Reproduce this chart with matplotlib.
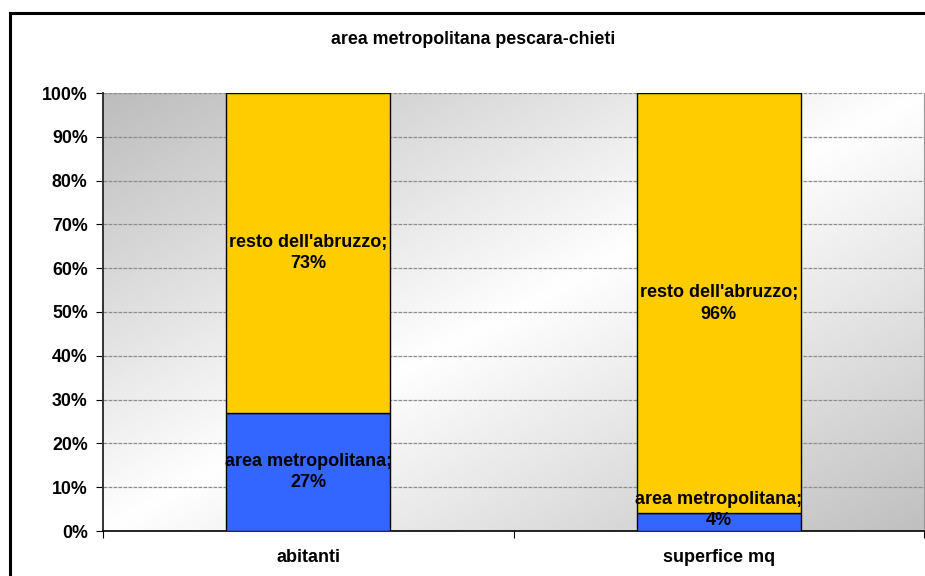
import numpy as np
import matplotlib.pyplot as plt
from matplotlib.colors import LinearSegmentedColormap

plt.rcParams['font.family'] = ['Liberation Sans', 'DejaVu Sans']
plt.rcParams['font.weight'] = 'bold'

categories = ['abitanti', 'superfice mq']
series_names = ['area metropolitana', "resto dell'abruzzo"]
area_metro = [27, 4]
resto = [73, 96]
yticks = [0, 10, 20, 30, 40, 50, 60, 70, 80, 90, 100]
title = 'area metropolitana pescara-chieti'

fig = plt.figure(figsize=(9.25, 5.76), dpi=100)
ax = fig.add_axes([103 / 925, 1 - 531 / 576, 821 / 925, 438 / 576])

# diagonal gradient background: grey corners top-left and bottom-right
nx, ny = 200, 120
gx, gy = np.meshgrid(np.linspace(0, 1, nx), np.linspace(0, 1, ny))
t = (gx + gy) / 2
cmap = LinearSegmentedColormap.from_list('bg', ['#bdbdbd', '#ffffff', '#c0c0c0'])
ax.imshow(t, cmap=cmap, extent=(-0.5, 1.5, 0, 100), aspect='auto',
          origin='upper', zorder=0, interpolation='bilinear')

x = np.arange(len(categories))
w = 0.4
ax.bar(x, area_metro, w, color='#3366FF', edgecolor='black', lw=1, zorder=3)
ax.bar(x, resto, w, bottom=area_metro, color='#FFCC00', edgecolor='black', lw=1, zorder=3)

for i in range(len(categories)):
    yc = max(area_metro[i] / 2, 4.8)
    ax.text(x[i], yc, f'{series_names[0]};\n{area_metro[i]}%', ha='center', va='center',
            fontsize=13, fontweight='bold', zorder=4, linespacing=1.35)
    ax.text(x[i], area_metro[i] + resto[i] / 2, f'{series_names[1]};\n{resto[i]}%',
            ha='center', va='center', fontsize=13, fontweight='bold', zorder=4, linespacing=1.35)

ax.set_xlim(-0.5, 1.5)
ax.set_ylim(0, 100)
ax.set_yticks(yticks)
ax.set_yticklabels([f'{v}%' for v in yticks], fontsize=12.8, fontweight='bold')
ax.set_xticks([-0.5, 0.5, 1.5])
ax.set_xticklabels([])
ax.set_xticks(x, minor=True)
ax.set_xticklabels(categories, minor=True, fontsize=13, fontweight='bold')
ax.tick_params(axis='x', which='minor', length=0, pad=13)
ax.tick_params(axis='x', which='major', length=5, direction='out')
ax.tick_params(axis='y', length=5, direction='out', pad=6)
ax.yaxis.grid(True, color='#8c8c8c', lw=0.9, linestyle=(0, (3, 1)), zorder=1)
ax.set_axisbelow(True)

ax.spines['top'].set_visible(False)
ax.spines['right'].set_color('#999999')
ax.spines['left'].set_linewidth(1.4)
ax.spines['left'].set_color('#333333')
ax.spines['bottom'].set_linewidth(1.2)

fig.text(473 / 925, 1 - 40 / 576, title, ha='center', va='center',
         fontsize=12.8, fontweight='bold')

# outer chart frame (cut off at right and bottom)
fig.add_artist(plt.Line2D([10 / 925, 10 / 925], [0, 1 - 13 / 576], color='black', lw=2.2,
                          transform=fig.transFigure))
fig.add_artist(plt.Line2D([10 / 925, 1], [1 - 13 / 576, 1 - 13 / 576], color='black', lw=2.2,
                          transform=fig.transFigure))

fig.savefig('out.png', dpi=100)
